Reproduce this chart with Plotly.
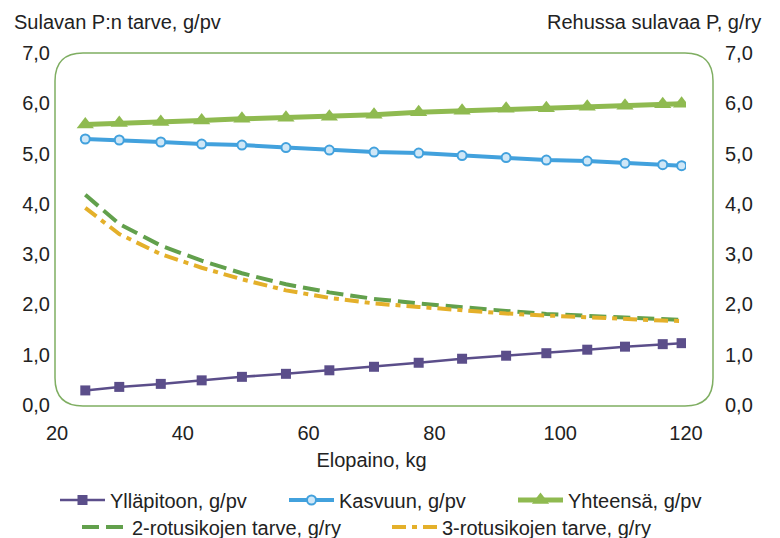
import plotly.graph_objects as go

# Live weight of the pig, kg
elopaino = [24.5, 29.9, 36.5, 43.0, 49.4, 56.4, 63.3, 70.4, 77.5, 84.4, 91.4, 97.8, 104.3, 110.3, 116.3, 119.3]

# Digestible P requirement, g/day
yllapito = [0.29, 0.36, 0.42, 0.49, 0.56, 0.62, 0.69, 0.76, 0.84, 0.92, 0.98, 1.03, 1.10, 1.16, 1.21, 1.23]
kasvu = [5.29, 5.27, 5.23, 5.19, 5.17, 5.12, 5.07, 5.03, 5.01, 4.96, 4.92, 4.87, 4.85, 4.81, 4.78, 4.76]
yhteensa = [5.58, 5.61, 5.63, 5.66, 5.69, 5.71, 5.73, 5.77, 5.82, 5.85, 5.89, 5.90, 5.93, 5.95, 5.98, 5.99]

# Digestible P in feed, g/feed unit
rotu2 = [4.18, 3.60, 3.17, 2.87, 2.62, 2.40, 2.24, 2.11, 2.02, 1.94, 1.87, 1.81, 1.77, 1.73, 1.70, 1.69]
rotu3 = [3.92, 3.40, 3.00, 2.73, 2.50, 2.28, 2.13, 2.02, 1.95, 1.88, 1.82, 1.78, 1.74, 1.71, 1.68, 1.67]

y_ticks = [0, 1, 2, 3, 4, 5, 6, 7]
y_tick_text = ["0,0", "1,0", "2,0", "3,0", "4,0", "5,0", "6,0", "7,0"]
x_ticks = [20, 40, 60, 80, 100, 120]

FONT = "Liberation Sans, Arial, sans-serif"
FS = 20
TXT = "#222222"

W, H = 780, 538
ML, MR, MT, MB = 57, 10, 53, 133
X_END = 686  # pixel where the x axis ends

fig = go.Figure()

fig.add_trace(go.Scatter(
    x=elopaino, y=yllapito, name="Ylläpitoon, g/pv", mode="lines+markers",
    line=dict(color="#5b4e8a", width=2.5),
    marker=dict(symbol="square", size=10, color="#5b4e8a"),
    legend="legend",
))
fig.add_trace(go.Scatter(
    x=elopaino, y=kasvu, name="Kasvuun, g/pv", mode="lines+markers",
    line=dict(color="#42a1dd", width=4),
    marker=dict(symbol="circle", size=9, color="#cfe7f7",
                line=dict(color="#42a1dd", width=2)),
    legend="legend",
))
fig.add_trace(go.Scatter(
    x=elopaino, y=yhteensa, name="Yhteensä, g/pv", mode="lines+markers",
    line=dict(color="#8fba50", width=5),
    marker=dict(symbol="triangle-up", size=15, color="#8fba50"),
    legend="legend",
))
fig.add_trace(go.Scatter(
    x=elopaino, y=rotu2, name="2-rotusikojen tarve, g/ry", mode="lines",
    line=dict(color="#62a04c", width=4, dash="17px,7px"),
    yaxis="y2", legend="legend2",
))
fig.add_trace(go.Scatter(
    x=elopaino, y=rotu3, name="3-rotusikojen tarve, g/ry", mode="lines",
    line=dict(color="#e4b02a", width=4, dash="14px,6px,5px,6px"),
    yaxis="y2", legend="legend2",
))

pw = W - ML - MR
ph = H - MT - MB


def px_x(p):
    return (p - ML) / pw


def px_y(p):
    return (H - MB - p) / ph


# rounded frame around the plotting region
x0, x1, y0, y1, r = 55, 713, 53, 406, 28
path = (
    f"M {px_x(x0 + r)},{px_y(y0)} L {px_x(x1 - r)},{px_y(y0)} "
    f"Q {px_x(x1)},{px_y(y0)} {px_x(x1)},{px_y(y0 + r)} "
    f"L {px_x(x1)},{px_y(y1 - r)} "
    f"Q {px_x(x1)},{px_y(y1)} {px_x(x1 - r)},{px_y(y1)} "
    f"L {px_x(x0 + r)},{px_y(y1)} "
    f"Q {px_x(x0)},{px_y(y1)} {px_x(x0)},{px_y(y1 - r)} "
    f"L {px_x(x0)},{px_y(y0 + r)} "
    f"Q {px_x(x0)},{px_y(y0)} {px_x(x0 + r)},{px_y(y0)} Z"
)
fig.add_shape(type="path", path=path, xref="paper", yref="paper",
              line=dict(color="#7fae62", width=1.5), layer="below")

fig.update_layout(
    width=W, height=H,
    margin=dict(l=ML, r=MR, t=MT, b=MB, autoexpand=False),
    paper_bgcolor="white", plot_bgcolor="rgba(0,0,0,0)",
    font=dict(family=FONT, size=FS, color=TXT),
    showlegend=True,
    xaxis=dict(
        domain=[0, px_x(X_END)], automargin=False,
        range=[20, 120], tickvals=x_ticks, showgrid=False, zeroline=False,
        showline=False, ticks="", ticklabelstandoff=14,
        tickfont=dict(size=FS, color=TXT),
        title=dict(text="Elopaino, kg", font=dict(size=FS, color=TXT), standoff=9),
    ),
    yaxis=dict(
        range=[0, 7], tickvals=y_ticks, ticktext=y_tick_text, showgrid=False,
        zeroline=False, showline=False, ticks="", ticklabelstandoff=6,
        automargin=False, tickfont=dict(size=FS, color=TXT),
    ),
    yaxis2=dict(
        range=[0, 7], tickvals=y_ticks, ticktext=y_tick_text, showgrid=False,
        zeroline=False, showline=False, ticks="", overlaying="y", side="right",
        anchor="x", ticklabelstandoff=38, automargin=False,
        tickfont=dict(size=FS, color=TXT),
    ),
    legend=dict(
        orientation="h", xref="container", yref="container",
        x=398.5 / W, y=1 - 500 / H, xanchor="center", yanchor="middle",
        bgcolor="rgba(0,0,0,0)", font=dict(size=FS, color=TXT),
        itemwidth=45, entrywidth=169, tracegroupgap=0,
    ),
    legend2=dict(
        orientation="h", xref="container", yref="container",
        x=387 / W, y=1 - 527 / H, xanchor="center", yanchor="middle",
        bgcolor="rgba(0,0,0,0)", font=dict(size=FS, color=TXT),
        itemwidth=45, entrywidth=250, tracegroupgap=0,
    ),
    annotations=[
        dict(text="Sulavan P:n tarve, g/pv", xref="paper", yref="paper",
             x=px_x(12), y=px_y(22), xanchor="left", yanchor="middle",
             showarrow=False, font=dict(size=FS, color=TXT)),
        dict(text="Rehussa sulavaa P, g/ry", xref="paper", yref="paper",
             x=px_x(763), y=px_y(22), xanchor="right", yanchor="middle",
             showarrow=False, font=dict(size=FS, color=TXT)),
    ],
)

fig.write_html("out.html")
